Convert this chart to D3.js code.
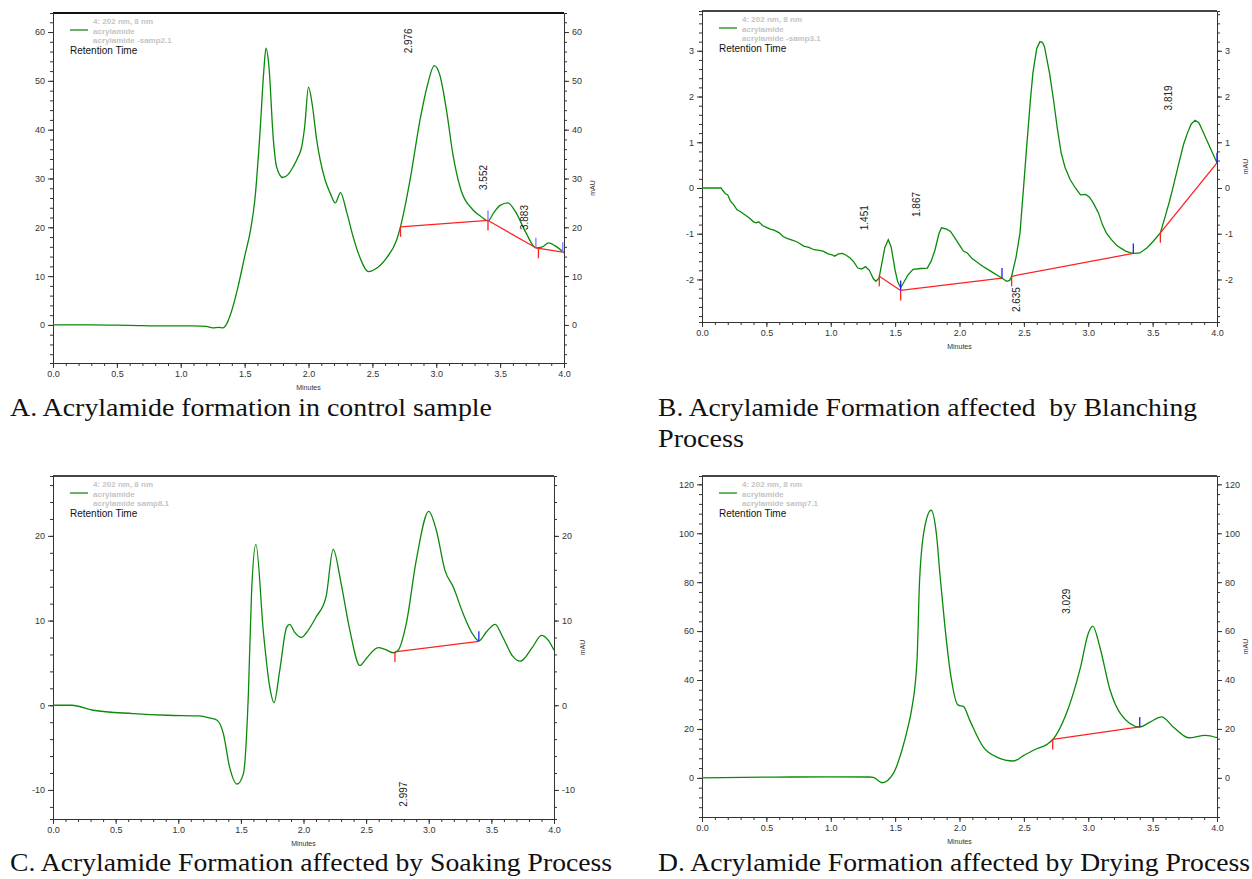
<!DOCTYPE html>
<html>
<head>
<meta charset="utf-8">
<script src="https://d3js.org/d3.v7.min.js"></script>
<style>
  body { margin: 0; background: #fff; }
  .axis text { font-family: "Liberation Sans", Arial, sans-serif; font-size: 9px; fill: #333; }
  .axis path, .axis line { stroke: #333; }
  .caption { font-family: "Liberation Serif", serif; font-size: 25px; fill: #111; white-space: pre; }
</style>
</head>
<body>
<div id="chart"></div>
<script>
// ---- data (minutes, mAU) ----
var timeA = [0,0.3,0.6,0.9,1.1,1.2,1.25,1.3,1.33,1.35,1.4,1.45,1.5,1.55,1.58,1.62,1.65,1.667,1.69,1.725,1.75,1.798,1.84,1.88,1.92,1.947,1.97,2.0,2.03,2.064,2.13,2.17,2.21,2.25,2.3,2.35,2.4,2.47,2.52,2.61,2.69,2.72,2.795,2.873,2.93,2.985,3.03,3.08,3.13,3.186,3.29,3.35,3.405,3.45,3.5,3.56,3.62,3.7,3.78,3.83,3.88,3.93,4.0];
var mauA  = [0,0,-0.1,-0.2,-0.2,-0.3,-0.6,-0.5,-0.6,-0.2,3,8,14,20,25.6,39.3,52,56.7,53,37.9,32.4,30.2,30.8,32.4,34.5,36.5,40.6,48.7,45,37.9,29.7,27,25,27.1,23,18,14,10.9,11.4,13.7,17.4,20.1,29.7,42,49,53.1,51,44,35,28.3,23.5,22.2,21.3,23,24.5,25,23.2,19,15.8,16,16.8,16.2,14.8];

var timeB = [0,0.1,0.148,0.16,0.18,0.2,0.22,0.25,0.27,0.3,0.33,0.37,0.4,0.42,0.44,0.47,0.5,0.53,0.56,0.6,0.63,0.66,0.7,0.74,0.79,0.83,0.87,0.9,0.94,0.98,1.01,1.03,1.06,1.09,1.12,1.15,1.18,1.21,1.24,1.27,1.3,1.33,1.35,1.375,1.4,1.42,1.447,1.47,1.5,1.52,1.543,1.56,1.6,1.64,1.7,1.75,1.78,1.81,1.84,1.86,1.9,1.93,1.97,2.0,2.03,2.06,2.1,2.14,2.18,2.22,2.26,2.3,2.33,2.365,2.39,2.405,2.44,2.47,2.5,2.52,2.55,2.57,2.6,2.625,2.645,2.66,2.7,2.73,2.76,2.79,2.82,2.86,2.9,2.94,2.98,3.01,3.04,3.08,3.11,3.14,3.18,3.22,3.25,3.29,3.33,3.36,3.4,3.455,3.5,3.56,3.6,3.63,3.66,3.7,3.74,3.77,3.8,3.83,3.86,3.88,3.92,3.96,4.0];
var mauB  = [0,0,0,-0.05,-0.12,-0.15,-0.28,-0.38,-0.47,-0.52,-0.58,-0.66,-0.74,-0.76,-0.74,-0.82,-0.86,-0.9,-0.92,-0.98,-1.06,-1.1,-1.14,-1.18,-1.27,-1.3,-1.35,-1.36,-1.38,-1.44,-1.46,-1.49,-1.44,-1.43,-1.47,-1.53,-1.62,-1.75,-1.77,-1.72,-1.8,-1.98,-2.04,-1.97,-1.6,-1.3,-1.13,-1.3,-1.8,-2.05,-2.18,-2.1,-1.9,-1.78,-1.76,-1.75,-1.6,-1.35,-1.0,-0.87,-0.9,-0.95,-1.12,-1.25,-1.38,-1.42,-1.55,-1.63,-1.71,-1.78,-1.85,-1.92,-1.97,-2.04,-2.02,-1.93,-1.5,-0.98,0.1,0.84,1.9,2.51,3.05,3.2,3.18,3.09,2.5,1.93,1.3,0.76,0.45,0.18,0.0,-0.15,-0.14,-0.2,-0.33,-0.55,-0.8,-0.98,-1.13,-1.25,-1.31,-1.38,-1.42,-1.43,-1.42,-1.31,-1.18,-0.98,-0.6,-0.3,0.03,0.5,0.95,1.2,1.4,1.48,1.42,1.3,1.05,0.8,0.55];

var timeC = [0,0.15,0.32,0.64,0.91,1.17,1.25,1.31,1.36,1.41,1.47,1.52,1.56,1.585,1.62,1.68,1.73,1.765,1.81,1.865,1.89,1.93,1.985,2.02,2.1,2.18,2.237,2.3,2.37,2.45,2.5,2.597,2.65,2.716,2.756,2.82,2.9,3.0,3.06,3.13,3.195,3.275,3.355,3.4,3.46,3.53,3.59,3.67,3.73,3.83,3.9,3.955,4.0];
var mauC  = [0,0,-0.59,-0.98,-1.18,-1.26,-1.5,-1.77,-3.35,-7.3,-9.3,-8.1,1.4,13.2,19.0,8.6,2.2,0.3,4.1,9.2,9.56,8.6,8.0,8.5,10.4,12.8,18.4,14.4,8.85,4.7,5.5,6.8,6.6,6.2,6.5,9.6,17.1,22.9,20.7,15.9,14.0,10.8,8.3,7.6,8.65,9.56,8.06,5.8,5.2,6.9,8.26,7.67,6.5];

var timeD = [0,0.55,1.0,1.3,1.33,1.4,1.485,1.56,1.6,1.627,1.67,1.69,1.73,1.78,1.82,1.85,1.887,1.93,1.99,2.03,2.08,2.185,2.29,2.42,2.5,2.6,2.68,2.73,2.83,2.94,3.0,3.035,3.09,3.17,3.25,3.4,3.48,3.57,3.66,3.78,3.91,4.0];
var mauD  = [0,0.3,0.4,0.35,0.2,-2.0,1.7,12.6,20.8,27.6,48,80.8,102.6,109.4,100,82,61.7,42.6,29.7,29.2,23.5,12.6,8.5,6.9,9.2,11.9,13.7,16,26.3,45.3,59,62,53.5,35.8,26.3,20.8,22.8,24.9,20.8,16.4,17.4,16.4];

// integration baselines: segments [[t0, v0], [t1, v1]]
var baseA = [[[2.72,20.1],[3.405,21.4]],[[3.405,21.4],[3.78,15.8]],[[3.78,15.8],[3.99,14.9]]];
var baseB = [[[1.377,-1.93],[1.543,-2.24]],[[1.543,-2.24],[2.33,-1.97]],[[2.405,-1.93],[3.35,-1.43]],[[3.56,-0.98],[4.0,0.55]]];
var baseC = [[[2.73,6.3],[3.40,7.55]]];
var baseD = [[[2.724,15.7],[3.40,20.8]]];
// peak start (red) and end (blue) marks
var startA = [[2.72,20.1],[3.405,21.4],[3.80,15.7]];
var endA   = [[3.405,21.4],[3.78,15.8],[3.99,14.9]];
var startB = [[1.377,-1.93],[1.543,-2.24],[2.405,-1.93],[3.56,-0.98]];
var endB   = [[1.543,-2.24],[2.33,-1.97],[3.35,-1.43],[4.0,0.55]];
var startC = [[2.73,6.3]];
var endC   = [[3.40,7.55]];
var startD = [[2.724,15.7]];
var endD   = [[3.40,20.8]];

// retention time labels: text, position in (minutes, mAU)
var labelsA = [["2.976",2.78,58.2],["3.552",3.366,30.2],["3.883",3.687,22.0]];
var labelsB = [["1.451",1.266,-0.65],["1.867",1.668,-0.36],["2.635",2.444,-2.44],["3.819",3.62,1.97]];
var labelsC = [["2.997",2.80,-10.5]];
var labelsD = [["3.029",2.833,72.2]];

var xTicks  = [0,0.5,1.0,1.5,2.0,2.5,3.0,3.5,4.0];
var yTicksA = [0,10,20,30,40,50,60];
var yTicksB = [-2,-1,0,1,2,3];
var yTicksC = [-10,0,10,20];
var yTicksD = [0,20,40,60,80,100,120];

var sampleNames = ["acrylamide -samp2.1","acrylamide -samp3.1","acrylamide samp8.1","acrylamide samp7.1"];
var captions = [
  ["A. Acrylamide formation in control sample"],
  ["B. Acrylamide Formation affected  by Blanching","Process"],
  ["C. Acrylamide Formation affected by Soaking Process"],
  ["D. Acrylamide Formation affected by Drying Process"]
];

var svg = d3.select("#chart").append("svg")
  .attr("width", 1252).attr("height", 879);

var panels = [
  {x0:53, x1:564, top:13, bottom:363, ydom:[-7.8,63.9], yt:yTicksA, ystep:2, t:timeA, v:mauA, base:baseA, st:startA, en:endA, lab:labelsA, jag:false, blue:"#7a7aff",
   cap:{x:10, y:416, w:[482]}},
  {x0:702, x1:1217, top:11, bottom:322, ydom:[-2.93,3.87], yt:yTicksB, ystep:0.2, t:timeB, v:mauB, base:baseB, st:startB, en:endB, lab:labelsB, jag:true, blue:"#2020ff",
   cap:{x:658, y:416, w:[539,86]}},
  {x0:53, x1:554, top:476, bottom:819, ydom:[-13.43,27.07], yt:yTicksC, ystep:2, t:timeC, v:mauC, base:baseC, st:startC, en:endC, lab:labelsC, jag:false, blue:"#2020ff",
   cap:{x:10, y:871, w:[602]}},
  {x0:702, x1:1217, top:476, bottom:817, ydom:[-16.0,123.4], yt:yTicksD, ystep:4, t:timeD, v:mauD, base:baseD, st:startD, en:endD, lab:labelsD, jag:false, blue:"#2020ff",
   cap:{x:658, y:871, w:[592]}}
];

var plain = function(d) { return String(d); };

panels.forEach(function(p, i) {
  var x = d3.scaleLinear().domain([0,4]).range([p.x0, p.x1]);
  var y = d3.scaleLinear().domain(p.ydom).range([p.bottom, p.top]);
  var g = svg.append("g");

  // top frame
  g.append("line").attr("x1", p.x0).attr("x2", p.x1).attr("y1", p.top).attr("y2", p.top)
    .attr("stroke", i == 0 ? "#111" : "#444").attr("stroke-width", 2);

  // minor ticks
  var xMinor = d3.range(0, 4.001, 0.1);
  var yMinor = d3.range(Math.ceil(p.ydom[0]/p.ystep)*p.ystep, p.ydom[1], p.ystep);
  g.append("g").attr("class","axis").attr("transform","translate(0,"+p.bottom+")")
    .call(d3.axisBottom(x).tickValues(xMinor).tickSize(3).tickFormat(""));
  g.append("g").attr("class","axis").attr("transform","translate("+p.x0+",0)")
    .call(d3.axisLeft(y).tickValues(yMinor).tickSize(3).tickFormat(""));
  g.append("g").attr("class","axis").attr("transform","translate("+p.x1+",0)")
    .call(d3.axisRight(y).tickValues(yMinor).tickSize(3).tickFormat(""));

  // major axes
  g.append("g").attr("class","axis").attr("transform","translate(0,"+p.bottom+")")
    .call(d3.axisBottom(x).tickValues(xTicks).tickSize(5).tickSizeOuter(0).tickFormat(d3.format(".1f")));
  g.append("g").attr("class","axis").attr("transform","translate("+p.x0+",0)")
    .call(d3.axisLeft(y).tickValues(p.yt).tickSize(5).tickSizeOuter(0).tickFormat(plain));
  g.append("g").attr("class","axis").attr("transform","translate("+p.x1+",0)")
    .call(d3.axisRight(y).tickValues(p.yt).tickSize(5).tickSizeOuter(0).tickFormat(plain));
  g.selectAll(".axis text").style("font-size","9px");

  g.append("text").attr("x", (p.x0+p.x1)/2).attr("y", p.bottom + 27)
    .attr("text-anchor","middle").style("font-family","Liberation Sans, Arial").style("font-size","7px").style("fill","#333")
    .text("Minutes");
  g.append("text")
    .attr("transform","translate("+(p.x1+31)+","+((p.top+p.bottom)/2)+") rotate(-90)")
    .attr("text-anchor","middle").style("font-family","Liberation Sans, Arial").style("font-size","7px").style("fill","#333")
    .text("mAU");

  // legend
  var lx = p.x0 + 17, ly = p.top + 17;
  g.append("line").attr("x1", lx).attr("x2", lx+18).attr("y1", ly).attr("y2", ly)
    .attr("stroke","#3a9a3a").attr("stroke-width",1.5);
  [["4: 202 nm, 8 nm",-9],["acrylamide",1],[sampleNames[i],10]].forEach(function(s) {
    g.append("text").attr("x", lx+23).attr("y", ly + s[1] + 3)
      .style("font-family","Liberation Sans, Arial").style("font-size","8px").style("font-weight","bold").style("fill","#c4c4c4")
      .text(s[0]);
  });
  g.append("text").attr("x", lx).attr("y", ly + 24)
    .style("font-family","Liberation Sans, Arial").style("font-size","10px").style("fill","#111")
    .text("Retention Time");

  // chromatogram
  var line = d3.line()
    .x(function(d) { return x(d[0]); })
    .y(function(d) { return y(d[1]); })
    .curve(p.jag ? d3.curveLinear : d3.curveMonotoneX);
  g.append("path").datum(d3.zip(p.t, p.v))
    .attr("d", line).attr("fill","none").attr("stroke","#0a8a0a").attr("stroke-width",1.3);

  // baselines
  g.selectAll(".base").data(p.base).enter().append("line")
    .attr("x1", function(d) { return x(d[0][0]); }).attr("y1", function(d) { return y(d[0][1]); })
    .attr("x2", function(d) { return x(d[1][0]); }).attr("y2", function(d) { return y(d[1][1]); })
    .attr("stroke","#ff2020").attr("stroke-width",1.3);
  g.selectAll(".st").data(p.st).enter().append("line")
    .attr("x1", function(d) { return x(d[0]); }).attr("x2", function(d) { return x(d[0]); })
    .attr("y1", function(d) { return y(d[1]); }).attr("y2", function(d) { return y(d[1]) + 10; })
    .attr("stroke","#ff2020").attr("stroke-width",1.3);
  g.selectAll(".en").data(p.en).enter().append("line")
    .attr("x1", function(d) { return x(d[0]); }).attr("x2", function(d) { return x(d[0]); })
    .attr("y1", function(d) { return y(d[1]); }).attr("y2", function(d) { return y(d[1]) - 10; })
    .attr("stroke", p.blue).attr("stroke-width",1.3);

  // retention time labels
  g.selectAll(".lab").data(p.lab).enter().append("text")
    .attr("transform", function(d) { return "translate("+x(d[1])+","+y(d[2])+") rotate(-90)"; })
    .attr("text-anchor","middle").attr("dy","0.35em")
    .style("font-family","Liberation Sans, Arial").style("font-size","10px").style("fill","#222")
    .text(function(d) { return d[0]; });

  // caption
  captions[i].forEach(function(c, k) {
    svg.append("text").attr("class","caption").attr("xml:space","preserve")
      .attr("x", p.cap.x).attr("y", p.cap.y + k*31)
      .attr("textLength", p.cap.w[k]).attr("lengthAdjust","spacingAndGlyphs")
      .text(c);
  });
});
</script>
</body>
</html>
